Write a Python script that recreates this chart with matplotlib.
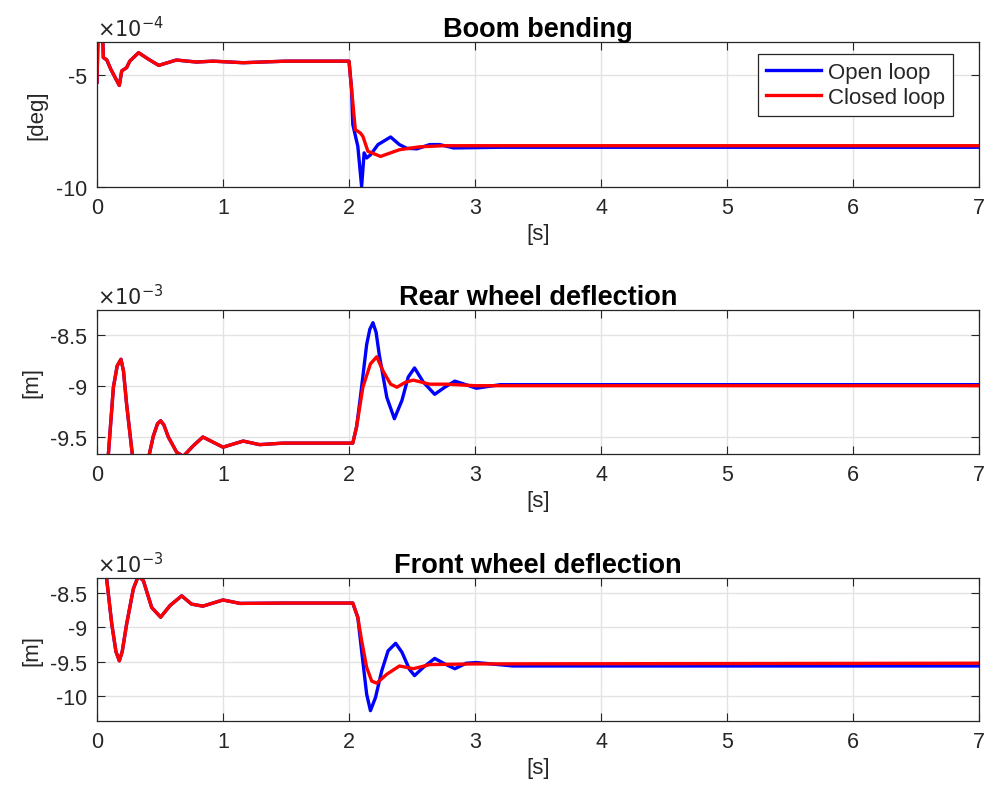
import matplotlib
matplotlib.use('Agg')
import matplotlib.pyplot as plt

plt.rcParams['font.family'] = ['Liberation Sans', 'DejaVu Sans']

# --- data (values scaled by 1e-4 / 1e-3) ---
# boom bending [deg] x1e-4
t_pre1 = [0, 0.008, 0.045, 0.05, 0.077, 0.11, 0.177, 0.196, 0.235, 0.26, 0.33, 0.41, 0.49,
          0.63, 0.79, 0.92, 1.16, 1.5, 2.0]
y_pre1 = [-5.3, -3.2, -3.2, -4.2, -4.3, -4.73, -5.45, -4.8, -4.65, -4.36, -3.98, -4.28, -4.55,
          -4.31, -4.40, -4.36, -4.43, -4.36, -4.36]
t_open1 = t_pre1 + [2.02, 2.03, 2.07, 2.10, 2.12, 2.14, 2.17, 2.23, 2.33, 2.40, 2.46, 2.54,
                    2.64, 2.72, 2.83, 3.2, 7.0]
y_open1 = y_pre1 + [-5.6, -7.2, -8.18, -9.98, -8.47, -8.7, -8.56, -8.1, -7.76, -8.1, -8.27, -8.29,
                    -8.1, -8.1, -8.25, -8.22, -8.22]
t_closed1 = t_pre1 + [2.02, 2.05, 2.09, 2.11, 2.15, 2.25, 2.40, 2.56, 2.75, 7.0]
y_closed1 = y_pre1 + [-5.6, -7.43, -7.58, -7.73, -8.4, -8.63, -8.33, -8.2, -8.15, -8.15]

# rear wheel deflection [m] x1e-3
t_pre2 = [0, 0.09, 0.13, 0.16, 0.19, 0.21, 0.235, 0.28, 0.33, 0.415, 0.447, 0.48, 0.505, 0.53,
          0.566, 0.632, 0.685, 0.765, 0.84, 0.92, 1.0, 1.16, 1.29, 1.48, 2.03]
y_pre2 = [-10.2, -9.67, -9.01, -8.80, -8.735, -8.85, -9.18, -9.67, -10.1, -9.67, -9.49, -9.37,
          -9.34, -9.38, -9.50, -9.65, -9.69, -9.585, -9.50, -9.55, -9.60, -9.54, -9.575, -9.56, -9.56]
t_open2 = t_pre2 + [2.06, 2.09, 2.14, 2.165, 2.19, 2.215, 2.24, 2.30, 2.36, 2.42, 2.47, 2.52,
                    2.59, 2.68, 2.76, 2.84, 2.94, 3.01, 3.2, 7.0]
y_open2 = y_pre2 + [-9.40, -9.11, -8.59, -8.44, -8.375, -8.47, -8.69, -9.11, -9.32, -9.14, -8.91,
                    -8.82, -8.96, -9.08, -9.01, -8.95, -8.99, -9.02, -8.985, -8.985]
t_closed2 = t_pre2 + [2.06, 2.11, 2.17, 2.22, 2.27, 2.33, 2.38, 2.45, 2.51, 2.64, 2.78, 3.0, 7.0]
y_closed2 = y_pre2 + [-9.40, -9.01, -8.78, -8.71, -8.85, -8.98, -9.01, -8.96, -8.94, -8.98,
                      -8.98, -8.995, -8.995]

# front wheel deflection [m] x1e-3
t_pre3 = [0, 0.075, 0.117, 0.15, 0.177, 0.20, 0.235, 0.288, 0.328, 0.368, 0.434, 0.505, 0.58,
          0.672, 0.75, 0.84, 1.0, 1.135, 1.5, 2.03]
y_pre3 = [-7.9, -8.27, -8.95, -9.35, -9.485, -9.35, -8.95, -8.44, -8.25, -8.32, -8.71, -8.85,
          -8.68, -8.54, -8.66, -8.69, -8.60, -8.65, -8.645, -8.645]
t_open3 = t_pre3 + [2.07, 2.10, 2.14, 2.17, 2.21, 2.26, 2.31, 2.37, 2.42, 2.48, 2.52, 2.59,
                    2.68, 2.76, 2.84, 2.93, 3.01, 3.3, 7.0]
y_open3 = y_pre3 + [-8.855, -9.34, -9.97, -10.21, -10.02, -9.63, -9.34, -9.23, -9.36, -9.61,
                    -9.70, -9.58, -9.45, -9.53, -9.60, -9.52, -9.51, -9.56, -9.56]
t_closed3 = t_pre3 + [2.07, 2.10, 2.14, 2.18, 2.22, 2.30, 2.40, 2.51, 2.64, 3.0, 7.0]
y_closed3 = y_pre3 + [-8.855, -9.19, -9.58, -9.78, -9.81, -9.68, -9.56, -9.60, -9.54, -9.53, -9.52]

titles = ['Boom bending', 'Rear wheel deflection', 'Front wheel deflection']
ylabels = ['[deg]', '[m]', '[m]']
exps = [r'$\times10^{-4}$', r'$\times10^{-3}$', r'$\times10^{-3}$']
ylims = [(-10, -3.5), (-9.667, -8.25), (-10.36, -8.28)]
yticks = [[-10, -5], [-9.5, -9, -8.5], [-10, -9.5, -9, -8.5]]
yticklabels = [['-10', '-5'], ['-9.5', '-9', '-8.5'], ['-10', '-9.5', '-9', '-8.5']]
series = [(t_open1, y_open1, t_closed1, y_closed1),
          (t_open2, y_open2, t_closed2, y_closed2),
          (t_open3, y_open3, t_closed3, y_closed3)]
positions = [[0.0983, 0.7659, 0.8936, 0.1806],
             [0.0983, 0.4334, 0.8936, 0.1793],
             [0.0983, 0.1009, 0.8936, 0.1781]]

txt = '#262626'
fig = plt.figure(figsize=(9.87, 8.03), dpi=100)

for i in range(3):
    ax = fig.add_axes(positions[i])
    to, yo, tc, yc = series[i]
    ax.plot(to, yo, color=(0, 0, 1), lw=2.4, label='Open loop')
    ax.plot(tc, yc, color=(1, 0, 0), lw=2.4, label='Closed loop')
    ax.set_xlim(0, 7)
    ax.set_ylim(*ylims[i])
    ax.set_xticks(range(8))
    ax.set_yticks(yticks[i])
    ax.set_yticklabels(yticklabels[i])
    ax.grid(True, color='#e3e3e3', lw=1.0)
    ax.set_axisbelow(True)
    ax.tick_params(direction='in', top=True, right=True, length=6, width=0.8,
                   colors=txt, labelsize=15.5, pad=7)
    for s in ax.spines.values():
        s.set_color(txt)
        s.set_linewidth(0.9)
    ax.set_title(titles[i], fontsize=19.5, fontweight='bold', color='black', pad=4)
    ax.set_xlabel('[s]', fontsize=16, color=txt, labelpad=4)
    ax.set_ylabel(ylabels[i], fontsize=16, color=txt, labelpad=6)
    ax.text(0.0, 1.015, exps[i], transform=ax.transAxes, fontsize=15, color=txt,
            ha='left', va='bottom')
    if i == 0:
        leg = ax.legend(loc='upper right', bbox_to_anchor=(0.9705, 0.917), borderaxespad=0,
                        fontsize=16, fancybox=False, framealpha=1, edgecolor=txt,
                        handlelength=2.5, handletextpad=0.3, labelspacing=0.2,
                        borderpad=0.35)
        leg.get_frame().set_linewidth(0.9)
        for t in leg.get_texts():
            t.set_color(txt)

fig.savefig('out.png', dpi=100)
